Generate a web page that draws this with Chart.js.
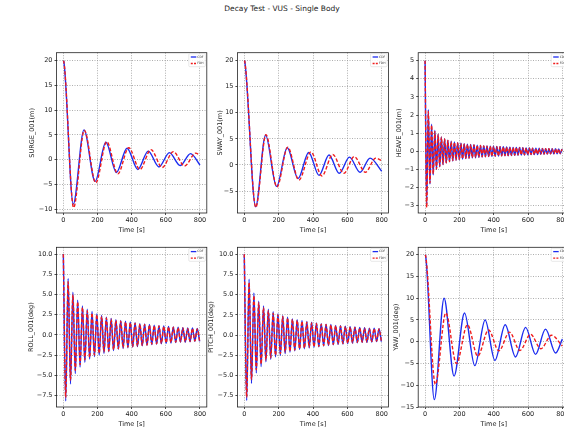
<!DOCTYPE html>
<html>
<head>
<meta charset="utf-8">
<script src="https://cdn.jsdelivr.net/npm/chart.js@4.4.0/dist/chart.umd.min.js"></script>
<style>
html, body { margin: 0; padding: 0; overflow: hidden; background: #fff; width: 564px; height: 429px; }
#wrap { position: relative; width: 600px; height: 429px; }
#wrap canvas { position: absolute; left: 0; top: 0; }
#title { position: absolute; left: 0; width: 564px; top: 4px; text-align: center; font: 7.5px 'DejaVu Sans'; color: #222; }
</style>
</head>
<body>
<div id="wrap">
  <div id="title">Decay Test - VUS - Single Body</div>
  <canvas id="surge" width="600" height="429"></canvas>
  <canvas id="sway" width="600" height="429"></canvas>
  <canvas id="heave" width="600" height="429"></canvas>
  <canvas id="roll" width="600" height="429"></canvas>
  <canvas id="pitch" width="600" height="429"></canvas>
  <canvas id="yaw" width="600" height="429"></canvas>
</div>
<script>
// eixo do tempo, comum a todos
const timeTicks = [0, 200, 400, 600, 800];
const timeRange = [-40, 840];

// SURGE - picos e vales
const surgeCdfTime = [0, 3, 58, 121, 186, 249, 311, 373, 436, 497, 560, 621, 684, 745, 800];
const surgeCdf     = [20, 19.8, -9.0, 6.0, -4.4, 3.5, -2.6, 2.3, -2.0, 1.7, -1.5, 1.4, -1.2, 1.2, -1.1];
const surgeFdhTime = [0, 3, 60, 123, 190, 254, 319, 383, 448, 513, 579, 644, 710, 775, 800];
const surgeFdh     = [20, 19.8, -9.7, 5.9, -4.7, 3.6, -2.9, 2.4, -2.0, 2.0, -1.6, 1.6, -1.3, 1.3, 0.9];
const surgeTicks = [-10, -5, 0, 5, 10, 15, 20];
const surgeRange = [-10.8, 21.6];

// SWAY
const swayCdfTime = [0, 3, 66, 124, 188, 250, 313, 375, 435, 493, 553, 612, 674, 732, 800];
const swayCdf     = [20, 19.8, -8.0, 5.7, -4.1, 3.3, -2.6, 2.4, -2.0, 1.9, -1.6, 1.5, -1.4, 1.3, -1.2];
const swayFdhTime = [0, 3, 67, 126, 190, 253, 318, 388, 452, 515, 580, 640, 705, 765, 800];
const swayFdh     = [20, 19.8, -8.1, 5.8, -4.2, 3.4, -2.9, 2.5, -2.1, 2.0, -1.6, 1.6, -1.4, 1.3, 0.8];
const swayTicks = [-5, 0, 5, 10, 15, 20];
const swayRange = [-9.2, 21.5];

// HEAVE - periodo curto (~19 s)
const heaveTime = [
  0, 9.5, 19, 28.5, 38, 47.5, 57, 66.5, 76, 85.5,
  95, 104.5, 114, 123.5, 133, 142.5, 152, 161.5, 171, 180.5,
  190, 199.5, 209, 218.5, 228, 237.5, 247, 256.5, 266, 275.5,
  285, 294.5, 304, 313.5, 323, 332.5, 342, 351.5, 361, 370.5,
  380, 389.5, 399, 408.5, 418, 427.5, 437, 446.5, 456, 465.5,
  475, 484.5, 494, 503.5, 513, 522.5, 532, 541.5, 551, 560.5,
  570, 579.5, 589, 598.5, 608, 617.5, 627, 636.5, 646, 655.5,
  665, 674.5, 684, 693.5, 703, 712.5, 722, 731.5, 741, 750.5,
  760, 769.5, 779, 788.5, 798
];
const heaveCdf = [
  5.0, -2.9, 2.3, -1.8, 1.5, -1.3, 1.15, -1.0, 0.95, -0.85,
  0.8, -0.74, 0.7, -0.65, 0.62, -0.58, 0.56, -0.53, 0.52, -0.49,
  0.48, -0.46, 0.45, -0.43, 0.42, -0.4, 0.4, -0.38, 0.38, -0.36,
  0.36, -0.35, 0.34, -0.33, 0.33, -0.31, 0.31, -0.3, 0.3, -0.29,
  0.29, -0.28, 0.28, -0.27, 0.27, -0.26, 0.26, -0.25, 0.25, -0.24,
  0.24, -0.24, 0.23, -0.23, 0.22, -0.22, 0.22, -0.21, 0.21, -0.2,
  0.2, -0.2, 0.19, -0.19, 0.19, -0.18, 0.18, -0.18, 0.17, -0.17,
  0.17, -0.16, 0.16, -0.16, 0.15, -0.15, 0.15, -0.14, 0.14, -0.14,
  0.14, -0.13, 0.13, -0.13, 0.13
];
const heaveFdh = [
  5.0, -3.1, 2.2, -1.75, 1.45, -1.25, 1.1, -0.97, 0.92, -0.82,
  0.78, -0.72, 0.68, -0.63, 0.6, -0.56, 0.54, -0.51, 0.5, -0.47,
  0.46, -0.44, 0.43, -0.41, 0.4, -0.39, 0.38, -0.37, 0.36, -0.35,
  0.35, -0.34, 0.33, -0.32, 0.32, -0.3, 0.3, -0.29, 0.29, -0.28,
  0.28, -0.27, 0.27, -0.26, 0.26, -0.25, 0.25, -0.24, 0.24, -0.23,
  0.23, -0.23, 0.22, -0.22, 0.21, -0.21, 0.21, -0.2, 0.2, -0.19,
  0.19, -0.19, 0.18, -0.18, 0.18, -0.17, 0.17, -0.17, 0.16, -0.16,
  0.16, -0.15, 0.15, -0.15, 0.15, -0.14, 0.14, -0.14, 0.13, -0.13,
  0.13, -0.13, 0.12, -0.12, 0.12
];
const heaveTicks = [-3, -2, -1, 0, 1, 2, 3, 4, 5];
const heaveRange = [-3.4, 5.44];

// ROLL / PITCH - periodo ~28 s
const rotTime = [
  0, 14, 28, 42, 56, 70, 84, 98, 112, 126,
  140, 154, 168, 182, 196, 210, 224, 238, 252, 266,
  280, 294, 308, 322, 336, 350, 364, 378, 392, 406,
  420, 434, 448, 462, 476, 490, 504, 518, 532, 546,
  560, 574, 588, 602, 616, 630, 644, 658, 672, 686,
  700, 714, 728, 742, 756, 770, 784, 798
];
const rollCdf = [
  10.0, -8.2, 7.0, -6.1, 5.3, -4.8, 4.3, -4.0, 3.6, -3.4,
  3.2, -3.0, 2.9, -2.7, 2.6, -2.5, 2.4, -2.3, 2.2, -2.1,
  2.05, -1.95, 1.9, -1.8, 1.8, -1.7, 1.7, -1.6, 1.6, -1.5,
  1.5, -1.45, 1.4, -1.35, 1.35, -1.3, 1.3, -1.2, 1.2, -1.15,
  1.15, -1.1, 1.1, -1.05, 1.05, -1.0, 1.0, -0.95, 0.95, -0.9,
  0.9, -0.9, 0.85, -0.85, 0.85, -0.8, 0.8, -0.8
];
const rollFdh = [
  10.0, -7.8, 6.6, -5.6, 5.0, -4.4, 4.1, -3.7, 3.4, -3.1,
  3.0, -2.8, 2.7, -2.5, 2.5, -2.3, 2.3, -2.1, 2.1, -2.0,
  1.95, -1.85, 1.8, -1.7, 1.7, -1.6, 1.6, -1.5, 1.5, -1.45,
  1.45, -1.4, 1.35, -1.3, 1.3, -1.25, 1.25, -1.15, 1.15, -1.1,
  1.1, -1.05, 1.05, -1.0, 1.0, -0.95, 0.95, -0.9, 0.9, -0.85,
  0.85, -0.85, 0.8, -0.8, 0.8, -0.75, 0.75, -0.75
];
const pitchCdf = [
  10.0, -8.1, 6.9, -6.0, 5.2, -4.7, 4.2, -3.9, 3.6, -3.3,
  3.2, -3.0, 2.9, -2.7, 2.6, -2.5, 2.4, -2.3, 2.2, -2.1,
  2.0, -1.95, 1.9, -1.8, 1.8, -1.7, 1.7, -1.6, 1.6, -1.5,
  1.5, -1.45, 1.4, -1.35, 1.35, -1.3, 1.3, -1.2, 1.2, -1.15,
  1.15, -1.1, 1.1, -1.05, 1.05, -1.0, 1.0, -0.95, 0.95, -0.9,
  0.9, -0.9, 0.85, -0.85, 0.85, -0.8, 0.8, -0.8
];
const pitchFdh = [
  10.0, -7.7, 6.5, -5.5, 4.9, -4.3, 4.0, -3.6, 3.4, -3.1,
  3.0, -2.8, 2.7, -2.5, 2.5, -2.3, 2.3, -2.1, 2.1, -2.0,
  1.95, -1.85, 1.8, -1.7, 1.7, -1.6, 1.6, -1.5, 1.5, -1.45,
  1.45, -1.4, 1.35, -1.3, 1.3, -1.25, 1.25, -1.15, 1.15, -1.1,
  1.1, -1.05, 1.05, -1.0, 1.0, -0.95, 0.95, -0.9, 0.9, -0.85,
  0.85, -0.85, 0.8, -0.8, 0.8, -0.75, 0.75, -0.75
];
const rotTicks = [-7.5, -5.0, -2.5, 0.0, 2.5, 5.0, 7.5, 10.0];
const rollRange = [-8.95, 10.87];
const pitchRange = [-8.9, 10.86];

// YAW
const yawCdfTime = [0, 3, 54, 111, 169, 230, 290, 350, 407, 467, 527, 586, 644, 702, 761, 800];
const yawCdf     = [20, 19.8, -13.3, 10.0, -7.9, 6.6, -5.5, 5.0, -4.3, 3.9, -3.5, 3.3, -2.9, 2.9, -2.6, 0.6];
const yawFdhTime = [0, 3, 60, 121, 183, 247, 307, 370, 430, 492, 553, 615, 675, 737, 800];
const yawFdh     = [20, 19.8, -9.8, 6.6, -5.0, 3.9, -3.3, 2.7, -2.1, 2.2, -2.0, 1.7, -1.6, 1.5, -1.0];
const yawTicks = [-15, -10, -5, 0, 5, 10, 15, 20];
const yawRange = [-15.0, 21.7];

// layout (px) - area de cada grafico na pagina
const W = 600, H = 429;
const COLS = [[56.5, 206.8], [237.4, 388.6], [418.2, 569.2]];
const ROWS = [[52.7, 213], [247.3, 407]];
const X_TITLE_Y = [230, 424];
const FONT = 'DejaVu Sans';
const FSIZE = 6.5;
const LH = FSIZE * 1.2;
const BLUE = '#1c2cf0';
const RED = '#f01c1c';
const LW = 1.4;

const fmt = (v, d) => (v < 0 ? '\u2212' : '') + Math.abs(v).toFixed(d);

const framePlugin = {
    id: 'frame',
    afterDraw(chart) {
        const { ctx, chartArea: a } = chart;
        ctx.save();
        ctx.strokeStyle = '#222';
        ctx.lineWidth = 0.8;
        ctx.strokeRect(a.left, a.top, a.right - a.left, a.bottom - a.top);
        // legenda
        const bx = a.right - 18, by = a.top + 1, bw = 16.5, bh = 13;
        ctx.fillStyle = 'rgba(255,255,255,0.85)';
        ctx.strokeStyle = '#d0d0d0';
        ctx.lineWidth = 0.5;
        ctx.beginPath();
        ctx.roundRect(bx, by, bw, bh, 1);
        ctx.fill();
        ctx.stroke();
        chart.data.datasets.forEach((ds, i) => {
            const y = a.top + 4.3 + i * 6.5;
            ctx.strokeStyle = ds.borderColor;
            ctx.lineWidth = 1.3;
            ctx.setLineDash(ds.borderDash ? [2, 1.2] : []);
            ctx.beginPath();
            ctx.moveTo(a.right - 16, y);
            ctx.lineTo(a.right - 10.5, y);
            ctx.stroke();
            ctx.setLineDash([]);
            ctx.fillStyle = '#333';
            ctx.font = '3px ' + FONT;
            ctx.textBaseline = 'middle';
            ctx.fillText(ds.label, a.right - 9.5, y);
        });
        ctx.restore();
    }
};

function makePlot(id, col, row, yTitleX, yTitle, yRange, yTicks, decimals, cdfT, cdfV, fdhT, fdhV) {
    const [l, r] = COLS[col];
    const [t, b] = ROWS[row];
    const padLeft = yTitleX - LH / 2;
    const yWidth = l - padLeft;
    const xBottom = X_TITLE_Y[row] + LH / 2;
    const xHeight = xBottom - b;
    const tickFont = { family: FONT, size: FSIZE };
    const gridOpts = { color: '#999', lineWidth: 0.8, tickLength: 2, tickColor: '#222', tickWidth: 0.8 };

    new Chart(document.getElementById(id), {
        type: 'line',
        data: {
            datasets: [{
                label: 'CDF',
                data: cdfT.map((x, i) => ({ x: x, y: cdfV[i] })),
                borderColor: BLUE,
                borderWidth: LW,
                pointRadius: 0,
                cubicInterpolationMode: 'monotone',
                order: 2
            }, {
                label: 'FDH',
                data: fdhT.map((x, i) => ({ x: x, y: fdhV[i] })),
                borderColor: RED,
                borderWidth: LW,
                borderDash: [3.5, 2],
                pointRadius: 0,
                cubicInterpolationMode: 'monotone',
                order: 1
            }]
        },
        options: {
            responsive: false,
            animation: false,
            devicePixelRatio: 1,
            layout: { padding: { left: padLeft, top: t, right: W - r, bottom: H - xBottom } },
            plugins: { legend: { display: false }, tooltip: { enabled: false } },
            scales: {
                x: {
                    type: 'linear',
                    min: timeRange[0],
                    max: timeRange[1],
                    afterBuildTicks: s => { s.ticks = timeTicks.map(v => ({ value: v })); },
                    afterFit: s => { s.height = xHeight; },
                    ticks: { font: tickFont, color: '#222', padding: 1.5, maxRotation: 0, autoSkip: false },
                    grid: gridOpts,
                    border: { display: false, dash: [1, 1.5] },
                    title: { display: true, text: 'Time [s]', font: tickFont, color: '#222', padding: 0 }
                },
                y: {
                    min: yRange[0],
                    max: yRange[1],
                    afterBuildTicks: s => { s.ticks = yTicks.map(v => ({ value: v })); },
                    afterFit: s => { s.width = yWidth; },
                    ticks: { font: tickFont, color: '#222', padding: 2, callback: v => fmt(v, decimals) },
                    grid: gridOpts,
                    border: { display: false, dash: [1, 1.5] },
                    title: { display: true, text: yTitle, font: tickFont, color: '#222', padding: 0 }
                }
            }
        },
        plugins: [framePlugin]
    });
}

makePlot('surge', 0, 0, 32, 'SURGE_001(m)', surgeRange, surgeTicks, 0, surgeCdfTime, surgeCdf, surgeFdhTime, surgeFdh);
makePlot('sway', 1, 0, 220, 'SWAY_001(m)', swayRange, swayTicks, 0, swayCdfTime, swayCdf, swayFdhTime, swayFdh);
makePlot('heave', 2, 0, 399, 'HEAVE_001(m)', heaveRange, heaveTicks, 0, heaveTime, heaveCdf, heaveTime, heaveFdh);
makePlot('roll', 0, 1, 31, 'ROLL_001(deg)', rollRange, rotTicks, 1, rotTime, rollCdf, rotTime, rollFdh);
makePlot('pitch', 1, 1, 211, 'PITCH_001(deg)', pitchRange, rotTicks, 1, rotTime, pitchCdf, rotTime, pitchFdh);
makePlot('yaw', 2, 1, 396, 'YAW_001(deg)', yawRange, yawTicks, 0, yawCdfTime, yawCdf, yawFdhTime, yawFdh);
</script>
</body>
</html>
